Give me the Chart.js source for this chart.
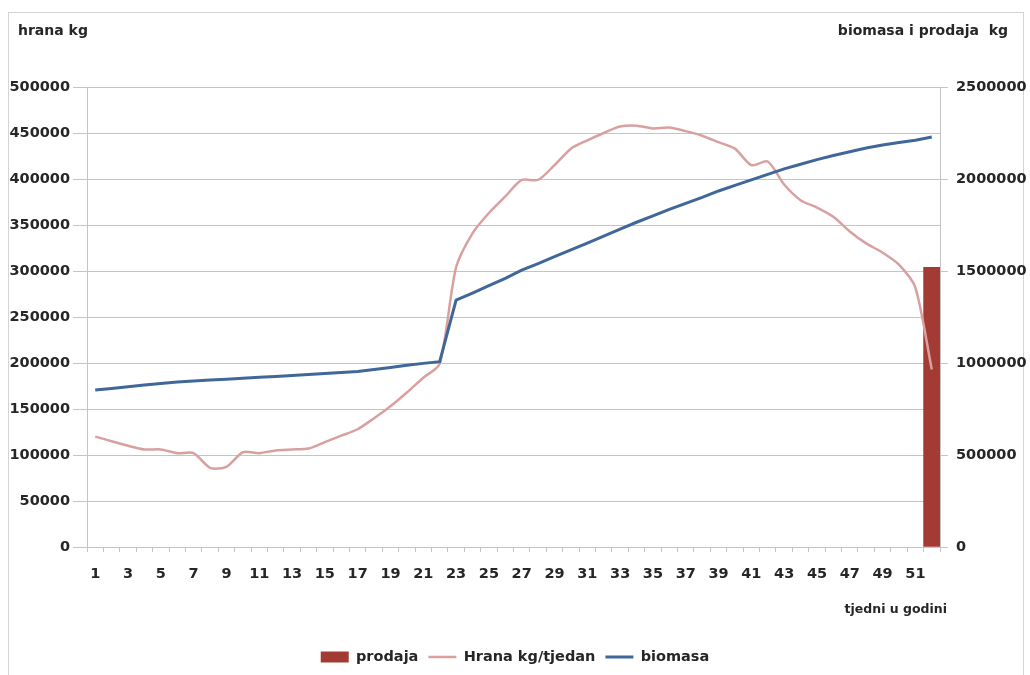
<!DOCTYPE html>
<html>
<head>
<meta charset="utf-8">
<title>hrana, biomasa i prodaja</title>
<script src="https://cdn.jsdelivr.net/npm/chart.js@4.4.1/dist/chart.umd.min.js"></script>
<style>
  html, body { margin: 0; padding: 0; background: #ffffff; }
  #wrap { position: relative; width: 1030px; height: 675px; }
</style>
</head>
<body>
<div id="wrap"><canvas id="chart" width="1030" height="675"></canvas></div>
<script>
// Tjedni u godini (1-52)
const tjedni = [1, 2, 3, 4, 5, 6, 7, 8, 9, 10, 11, 12, 13, 14, 15, 16, 17, 18, 19, 20,
  21, 22, 23, 24, 25, 26, 27, 28, 29, 30, 31, 32, 33, 34, 35, 36, 37, 38, 39, 40,
  41, 42, 43, 44, 45, 46, 47, 48, 49, 50, 51, 52];

// Hrana kg/tjedan (lijeva os)
const hrana = [120000, 115000, 110000, 106000, 106000, 102000, 102000, 86000, 87000, 103000,
  102000, 105000, 106000, 107000, 114000, 121000, 128000, 140000, 153000, 168000,
  184000, 199000, 304000, 341000, 363000, 381000, 399000, 399000, 415000, 433000,
  442000, 450000, 457000, 458000, 455000, 456000, 452000, 447000, 440000, 433000,
  415000, 419000, 394000, 377000, 369000, 359000, 343000, 330000, 320000, 307000,
  282000, 193000];

// Biomasa kg (desna os)
const biomasa = [853000, 862000, 871000, 880000, 889000, 897000, 902000, 907000, 912000, 917000,
  922000, 927000, 932000, 937000, 943000, 948000, 954000, 965000, 976000, 988000,
  998000, 1007000, 1342000, 1380000, 1420000, 1460000, 1505000, 1540000, 1578000, 1615000,
  1652000, 1690000, 1728000, 1765000, 1800000, 1835000, 1868000, 1900000, 1935000, 1965000,
  1995000, 2025000, 2055000, 2080000, 2105000, 2128000, 2148000, 2168000, 2185000, 2198000,
  2211000, 2228000];

// Prodaja kg (desna os) - samo u tjednu 52
const prodajaTjedni = [52];
const prodaja = [1520000];

// Oznake osi
const lijeviTicks = [0, 50000, 100000, 150000, 200000, 250000, 300000, 350000, 400000, 450000, 500000];
const desniTicks = [0, 500000, 1000000, 1500000, 2000000, 2500000];

const FONT = 'DejaVu Sans';
const TEXT = '#262626';
const GRID = '#c4c4c4';

Chart.defaults.font.family = FONT;
Chart.defaults.font.weight = 'bold';
Chart.defaults.font.size = 14.5;
Chart.defaults.color = TEXT;

// Border of the chart box, the two axis captions at the top and the x-axis caption
const okvir = {
  id: 'okvir',
  beforeDraw(chart) {
    const ctx = chart.ctx;
    ctx.save();
    ctx.fillStyle = '#ffffff';
    ctx.fillRect(0, 0, chart.width, chart.height);
    ctx.strokeStyle = '#d4d4d4';
    ctx.lineWidth = 1;
    ctx.strokeRect(8.5, 12.5, 1015, 670);
    ctx.restore();
  },
  afterDraw(chart) {
    const ctx = chart.ctx;
    ctx.save();
    ctx.fillStyle = TEXT;
    ctx.font = 'bold 14px ' + FONT;
    ctx.textBaseline = 'middle';
    ctx.textAlign = 'left';
    ctx.fillText('hrana kg', 18, 31);
    ctx.textAlign = 'right';
    ctx.fillText('biomasa i prodaja  kg', 1008, 31);
    ctx.font = 'bold 12.5px ' + FONT;
    ctx.fillText('tjedni u godini', 947, 610);
    ctx.restore();
  }
};

const labels = tjedni.map(String);

new Chart(document.getElementById('chart'), {
  type: 'bar',
  data: {
    labels: labels,
    datasets: [
      {
        type: 'bar',
        label: 'prodaja',
        data: prodajaTjedni.map((t, i) => ({ x: String(t), y: prodaja[i] })),
        backgroundColor: '#a43a34',
        borderWidth: 0,
        yAxisID: 'yDesno',
        barPercentage: 1,
        categoryPercentage: 1,
        pointStyle: 'rect',
        order: 3
      },
      {
        type: 'line',
        label: 'Hrana kg/tjedan',
        data: hrana,
        borderColor: '#d9a0a0',
        backgroundColor: '#d9a0a0',
        borderWidth: 2.5,
        pointRadius: 0,
        tension: 0.25,
        yAxisID: 'yLijevo',
        pointStyle: 'line',
        order: 2
      },
      {
        type: 'line',
        label: 'biomasa',
        data: biomasa,
        borderColor: '#40679a',
        backgroundColor: '#40679a',
        borderWidth: 3,
        pointRadius: 0,
        tension: 0,
        yAxisID: 'yDesno',
        pointStyle: 'line',
        order: 1
      }
    ]
  },
  options: {
    responsive: false,
    animation: false,
    layout: { padding: { top: 87, left: 0, right: 0, bottom: 0.75 } },
    plugins: {
      legend: {
        position: 'bottom',
        labels: {
          usePointStyle: true,
          pointStyleWidth: 28,
          boxWidth: 28,
          boxHeight: 11,
          padding: 10,
          color: TEXT,
          font: { size: 14.5, weight: 'bold', family: FONT },
          sort: (a, b) => a.datasetIndex - b.datasetIndex
        }
      },
      tooltip: { enabled: false }
    },
    scales: {
      x: {
        type: 'category',
        offset: true,
        grid: {
          offset: true,
          drawOnChartArea: false,
          drawTicks: true,
          tickLength: 5,
          color: GRID
        },
        border: { display: true, color: GRID, width: 1 },
        ticks: {
          autoSkip: false,
          maxRotation: 0,
          padding: 14,
          callback: (v, i) => (i % 2 === 0 ? labels[i] : '')
        },
        afterFit: (s) => { s.height = 92.75; }
      },
      yLijevo: {
        position: 'left',
        min: 0,
        max: 500000,
        afterBuildTicks: (s) => { s.ticks = lijeviTicks.map(v => ({ value: v })); },
        grid: { color: GRID, tickLength: 14, drawTicks: true },
        border: { display: true, color: GRID },
        ticks: { padding: 3, callback: (v) => String(v) },
        afterFit: (s) => { s.width = 87; }
      },
      yDesno: {
        position: 'right',
        min: 0,
        max: 2500000,
        afterBuildTicks: (s) => { s.ticks = desniTicks.map(v => ({ value: v })); },
        grid: { drawOnChartArea: false, color: GRID, tickLength: 8 },
        border: { display: true, color: GRID },
        ticks: { padding: 8, callback: (v) => String(v) },
        afterFit: (s) => { s.width = 90; }
      }
    }
  },
  plugins: [okvir]
});
</script>
</body>
</html>
